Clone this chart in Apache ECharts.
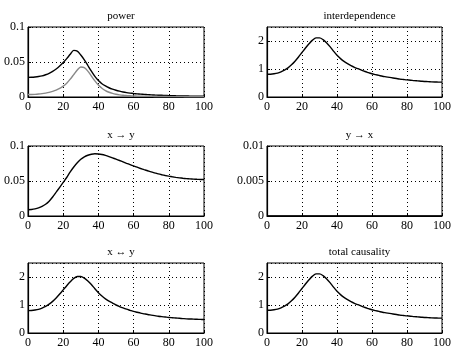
<!DOCTYPE html>
<html><head><meta charset="utf-8">
<script src="https://cdn.jsdelivr.net/npm/echarts@6/dist/echarts.min.js"></script>
<style>html,body{margin:0;padding:0;background:#fff}#c{width:466px;height:350px}</style>
</head><body><div id="c"></div>
<script>
var freq = [0,2,4,6,8,10,12,14,16,18,20,22,24,26,28,30,32,34,36,38,40,42,44,46,48,50,52,54,56,58,60,62,64,66,68,70,72,74,76,78,80,82,84,86,88,90,92,94,96,98,100];
var titles = ['power','interdependence','x \u2192 y','y \u2192 x','x \u2194 y','total causality'];
var powerX = [0.0280,0.0282,0.0286,0.0292,0.0302,0.0318,0.0338,0.0365,0.0400,0.0443,0.0492,0.0548,0.0610,0.0666,0.0655,0.0600,0.0530,0.0450,0.0370,0.0295,0.0235,0.0190,0.0158,0.0132,0.0112,0.0096,0.0083,0.0072,0.0063,0.0056,0.0050,0.0045,0.0041,0.0037,0.0034,0.0031,0.0028,0.0026,0.0024,0.0022,0.0020,0.0019,0.0017,0.0016,0.0015,0.0014,0.0013,0.0012,0.0012,0.0011,0.0010];
var powerY = [0.0035,0.0036,0.0038,0.0042,0.0048,0.0056,0.0066,0.0080,0.0098,0.0122,0.0155,0.0198,0.0255,0.0320,0.0385,0.0428,0.0420,0.0370,0.0300,0.0230,0.0170,0.0125,0.0092,0.0068,0.0051,0.0039,0.0031,0.0025,0.0021,0.0018,0.0015,0.0013,0.0012,0.0011,0.0010,0.0009,0.0008,0.0008,0.0007,0.0007,0.0006,0.0006,0.0005,0.0005,0.0005,0.0004,0.0004,0.0004,0.0003,0.0003,0.0003];
var interdep = [0.81,0.815,0.83,0.855,0.90,0.96,1.04,1.15,1.28,1.43,1.59,1.75,1.90,2.03,2.11,2.11,2.05,1.94,1.80,1.64,1.49,1.37,1.27,1.19,1.12,1.06,1.01,0.96,0.91,0.87,0.83,0.80,0.77,0.74,0.72,0.70,0.68,0.66,0.64,0.625,0.61,0.60,0.585,0.575,0.565,0.555,0.55,0.54,0.535,0.532,0.53];
var xToY = [0.0090,0.0093,0.0101,0.0115,0.0137,0.0168,0.0212,0.0272,0.0340,0.0410,0.0480,0.0550,0.0630,0.0700,0.0760,0.0810,0.0845,0.0868,0.0882,0.0889,0.0886,0.0878,0.0865,0.0849,0.0831,0.0812,0.0793,0.0773,0.0753,0.0734,0.0715,0.0697,0.0679,0.0662,0.0646,0.0630,0.0616,0.0602,0.0590,0.0579,0.0569,0.0560,0.0552,0.0545,0.0539,0.0534,0.0530,0.0527,0.0524,0.0522,0.0521];
var yToX = [0,0,0,0,0,0,0,0,0,0,0,0,0,0,0,0,0,0,0,0,0,0,0,0,0,0,0,0,0,0,0,0,0,0,0,0,0,0,0,0,0,0,0,0,0,0,0,0,0,0,0];
var instant = [0.80,0.805,0.82,0.845,0.89,0.95,1.03,1.13,1.25,1.39,1.54,1.69,1.83,1.95,2.02,2.02,1.96,1.86,1.73,1.58,1.44,1.32,1.22,1.14,1.07,1.00,0.945,0.895,0.85,0.81,0.77,0.74,0.71,0.685,0.66,0.64,0.62,0.60,0.585,0.57,0.555,0.545,0.535,0.525,0.515,0.505,0.50,0.495,0.49,0.485,0.48];
var total = [0.81,0.815,0.83,0.855,0.90,0.96,1.04,1.15,1.28,1.43,1.59,1.75,1.90,2.03,2.11,2.11,2.05,1.94,1.80,1.64,1.49,1.37,1.27,1.19,1.12,1.06,1.01,0.96,0.91,0.87,0.83,0.80,0.77,0.74,0.72,0.70,0.68,0.66,0.64,0.625,0.61,0.60,0.585,0.575,0.565,0.555,0.55,0.54,0.535,0.532,0.53];
var yRanges = [[0,0.1,0.05],[0,2.5,1],[0,0.1,0.05],[0,0.01,0.005],[0,2.5,1],[0,2.5,1]];
var panelSeries = [[[powerX,'#000'],[powerY,'#888']],[[interdep,'#000']],[[xToY,'#000']],[[yToX,'#000']],[[instant,'#000']],[[total,'#000']]];

var FONT = '"Liberation Serif","DejaVu Serif",serif';
var lefts = [28,267], widths = [176,175], tops = [27,146,263], H = 70;
function pairs(arr){ return freq.map(function(f,i){ return [f, arr[i]]; }); }
var grid=[], xAxis=[], yAxis=[], series=[], title=[];
for (var p=0;p<6;p++){
  var col=p%2, row=Math.floor(p/2);
  grid.push({left:lefts[col], top:tops[row], width:widths[col], height:H, show:true, borderColor:'#000', borderWidth:1, backgroundColor:'transparent'});
  title.push({text:titles[p], left:lefts[col]+widths[col]/2, top:tops[row]-21, textAlign:'center',
    textStyle:{fontFamily:FONT, fontSize:11, fontWeight:'normal', color:'#000'}});
  xAxis.push({type:'value', gridIndex:p, min:0, max:100, interval:20,
    axisLine:{show:true, lineStyle:{color:'#000', width:1.2}},
    axisTick:{show:true, inside:true, length:3, lineStyle:{color:'#000'}},
    axisLabel:{fontFamily:FONT, fontSize:12, color:'#000', margin:4},
    splitLine:{show:true, lineStyle:{color:'#000', type:[1,3], width:1}}});
  var yr=yRanges[p];
  yAxis.push({type:'value', gridIndex:p, min:yr[0], max:yr[1], interval:yr[2],
    axisLine:{show:true, lineStyle:{color:'#000', width:1.2}},
    axisTick:{show:true, inside:true, length:3, lineStyle:{color:'#000'}},
    axisLabel:{fontFamily:FONT, fontSize:12, color:'#000', margin:3, showMaxLabel: yr[1]===2.5 ? false : true},
    splitLine:{show:true, lineStyle:{color:'#000', type:[1,3], width:1}}});
  panelSeries[p].forEach(function(s){
    series.push({type:'line', xAxisIndex:p, yAxisIndex:p, data:pairs(s[0]), showSymbol:false, smooth:0.3,
      lineStyle:{color:s[1], width:1.4}, silent:true, animation:false});
  });
}
var chart = echarts.init(document.getElementById('c'), null, {renderer:'canvas'});
chart.setOption({animation:false, title:title, grid:grid, xAxis:xAxis, yAxis:yAxis, series:series});
</script></body></html>
